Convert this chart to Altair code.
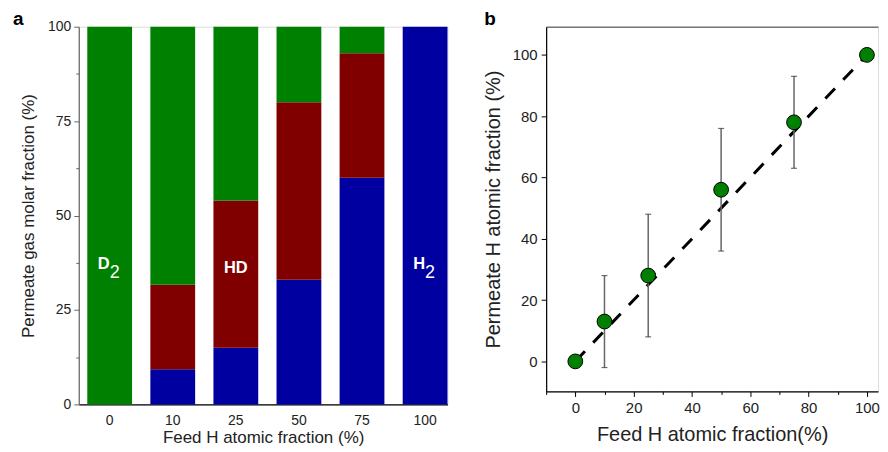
import altair as alt
import pandas as pd

# ---------------- data: panel a ----------------
feeds = ["0", "10", "25", "50", "75", "100"]
h2_frac = [0, 9.3, 15, 33, 60, 100]
hd_frac = [0, 22.4, 39, 47, 33, 0]
d2_frac = [100, 68.3, 46, 20, 7, 0]
species = ["H2", "HD", "D2"]
species_colors = ["#0000a0", "#800000", "#008000"]

label_feed = ["0", "25", "100"]
label_main = ["D", "HD", "H"]
label_sub = ["2", "", "2"]
label_y = [36, 36, 36]

# ---------------- data: panel b ----------------
feed_h = [0, 10, 25, 50, 75, 100]
perm_h = [0, 13, 28, 56, 78, 100]
err_lo = [None, -2, 8, 36, 63, None]
err_hi = [None, 28, 48, 76, 93, None]
ideal_x = [0, 100]
ideal_y = [0, 100]

FONT = "Liberation Sans"
TXT = "#222222"

rows = []
for i, f in enumerate(feeds):
    for k, (sp, vals) in enumerate(zip(species, [h2_frac, hd_frac, d2_frac])):
        rows.append({"feed": f, "species": sp, "value": vals[i], "ord": k})
df_a = pd.DataFrame(rows)
df_lab = pd.DataFrame({"feed": label_feed, "main": label_main, "sub": label_sub, "y": label_y})

y_a_vals = [0, 12.5, 25, 37.5, 50, 62.5, 75, 87.5, 100]

x_a = alt.X(
    "feed:N", sort=feeds,
    scale=alt.Scale(paddingInner=0.29, paddingOuter=0.0675, align=1),
    axis=alt.Axis(title="Feed H atomic fraction (%)", labelAngle=0, ticks=False,
                  domainColor="#000000", domainWidth=1.2, labelPadding=9,
                  labelFontSize=14, titleFontSize=17, titlePadding=2,
                  labelColor=TXT, titleColor=TXT, labelFont=FONT, titleFont=FONT,
                  titleFontWeight="normal"),
)
y_a = alt.Y(
    "value:Q", stack="zero",
    scale=alt.Scale(domain=[0, 100], nice=False),
    axis=alt.Axis(title="Permeate gas molar fraction (%)", values=y_a_vals,
                  labelExpr="datum.value % 25 === 0 ? datum.label : ''",
                  tickSize={"condition": {"test": "datum.value % 25 === 0", "value": 5}, "value": 3},
                  domainColor="#666666", tickColor="#666666", domainWidth=1.2,
                  labelFontSize=14, titleFontSize=17, labelPadding=3, titlePadding=10,
                  labelColor=TXT, titleColor=TXT, labelFont=FONT, titleFont=FONT,
                  titleFontWeight="normal", grid=False),
)

bars = alt.Chart(df_a).mark_bar().encode(
    x=x_a, y=y_a,
    color=alt.Color("species:N", scale=alt.Scale(domain=species, range=species_colors), legend=None),
    order=alt.Order("ord:Q"),
)

lab_hd = alt.Chart(df_lab).transform_filter("datum.sub === ''").mark_text(
    font=FONT, fontSize=16.5, fontWeight="bold", color="white", baseline="middle"
).encode(x=alt.X("feed:N", sort=feeds), y="y:Q", text="main:N")

lab_main = alt.Chart(df_lab).transform_filter("datum.sub !== ''").mark_text(
    font=FONT, fontSize=16.5, fontWeight="bold", color="white", baseline="middle", dx=-6, dy=-4
).encode(x=alt.X("feed:N", sort=feeds), y="y:Q", text="main:N")

lab_sub = alt.Chart(df_lab).transform_filter("datum.sub !== ''").mark_text(
    font=FONT, fontSize=18, color="white", baseline="middle", dx=5, dy=5
).encode(x=alt.X("feed:N", sort=feeds), y="y:Q", text="sub:N")

tag_a = alt.Chart(pd.DataFrame({"t": ["a"]})).mark_text(
    font=FONT, fontSize=19, fontWeight="bold", color="#000000", align="left", baseline="alphabetic"
).encode(x=alt.value(-66), y=alt.value(-2), text="t:N")

panel_a = alt.layer(bars, lab_hd, lab_main, lab_sub, tag_a).properties(width=370, height=379)

# ---------------- panel b ----------------
df_pts = pd.DataFrame({"x": feed_h, "y": perm_h, "lo": err_lo, "hi": err_hi})
df_line = pd.DataFrame({"x": ideal_x, "y": ideal_y})
df_err = df_pts.dropna()

x_tick_vals = [-10, 0, 10, 20, 30, 40, 50, 60, 70, 80, 90, 100]
y_tick_vals = [0, 10, 20, 30, 40, 50, 60, 70, 80, 90, 100]

x_scale_b = alt.Scale(domain=[-10, 103.8], nice=False, zero=False)
y_scale_b = alt.Scale(domain=[-9.8, 109.2], nice=False, zero=False)

x_b = alt.X(
    "x:Q", scale=x_scale_b,
    axis=alt.Axis(title="Feed H atomic fraction(%)", values=x_tick_vals,
                  labelExpr="datum.value % 20 === 0 ? datum.label : ''",
                  tickSize={"condition": {"test": "datum.value % 20 === 0", "value": 5}, "value": 3},
                  domainColor="#000000", tickColor="#000000", domainWidth=1.2,
                  labelFontSize=15, titleFontSize=20, labelPadding=4, titlePadding=9,
                  labelColor=TXT, titleColor=TXT, labelFont=FONT, titleFont=FONT,
                  titleFontWeight="normal", grid=False, orient="bottom"),
)
y_b = alt.Y(
    "y:Q", scale=y_scale_b,
    axis=alt.Axis(title="Permeate H atomic fraction (%)", values=y_tick_vals,
                  labelExpr="datum.value % 20 === 0 ? datum.label : ''",
                  tickSize={"condition": {"test": "datum.value % 20 === 0", "value": 5}, "value": 3},
                  domainColor="#000000", tickColor="#000000", domainWidth=1.2,
                  labelFontSize=15, titleFontSize=20, labelPadding=4, titlePadding=9,
                  labelColor=TXT, titleColor=TXT, labelFont=FONT, titleFont=FONT,
                  titleFontWeight="normal", grid=False),
)

xb_plain = alt.X("x:Q", scale=x_scale_b, axis=None)

line = alt.Chart(df_line).mark_line(color="#000000", strokeWidth=3, strokeDash=[14, 12]).encode(
    x=x_b, y=y_b)

err_rule = alt.Chart(df_err).mark_rule(color="#666666", strokeWidth=1.5).encode(
    x=xb_plain, y=alt.Y("lo:Q", scale=y_scale_b), y2="hi:Q")
cap_lo = alt.Chart(df_err).mark_tick(color="#333333", orient="horizontal", size=6, thickness=1.2).encode(
    x=xb_plain, y=alt.Y("lo:Q", scale=y_scale_b))
cap_hi = alt.Chart(df_err).mark_tick(color="#333333", orient="horizontal", size=6, thickness=1.2).encode(
    x=xb_plain, y=alt.Y("hi:Q", scale=y_scale_b))

pts = alt.Chart(df_pts).mark_circle(size=220, color="#008000", stroke="#000000", strokeWidth=1, opacity=1).encode(
    x=xb_plain, y=alt.Y("y:Q", scale=y_scale_b))

top_axis = alt.Chart(df_line).mark_point(opacity=0).encode(
    x=alt.X("x:Q", scale=x_scale_b,
            axis=alt.Axis(orient="top", labels=False, ticks=False, title=None,
                          domainColor="#777777", domainWidth=1.5)),
    y=alt.Y("y:Q", scale=y_scale_b),
)

tag_b = alt.Chart(pd.DataFrame({"t": ["b"]})).mark_text(
    font=FONT, fontSize=19, fontWeight="bold", color="#000000", align="left", baseline="alphabetic"
).encode(x=alt.value(-62), y=alt.value(-2), text="t:N")

panel_b = alt.layer(line, err_rule, cap_lo, cap_hi, pts, top_axis, tag_b).resolve_axis(
    x="independent").properties(width=333, height=366)

chart = alt.hconcat(panel_a, panel_b, spacing=99, bounds="flush").properties(
    padding={"left": 4, "top": 0, "right": 0, "bottom": 0}
).configure_view(stroke=None).configure(font=FONT)

chart.save("out.html", embed_options={"renderer": "svg", "actions": False})
